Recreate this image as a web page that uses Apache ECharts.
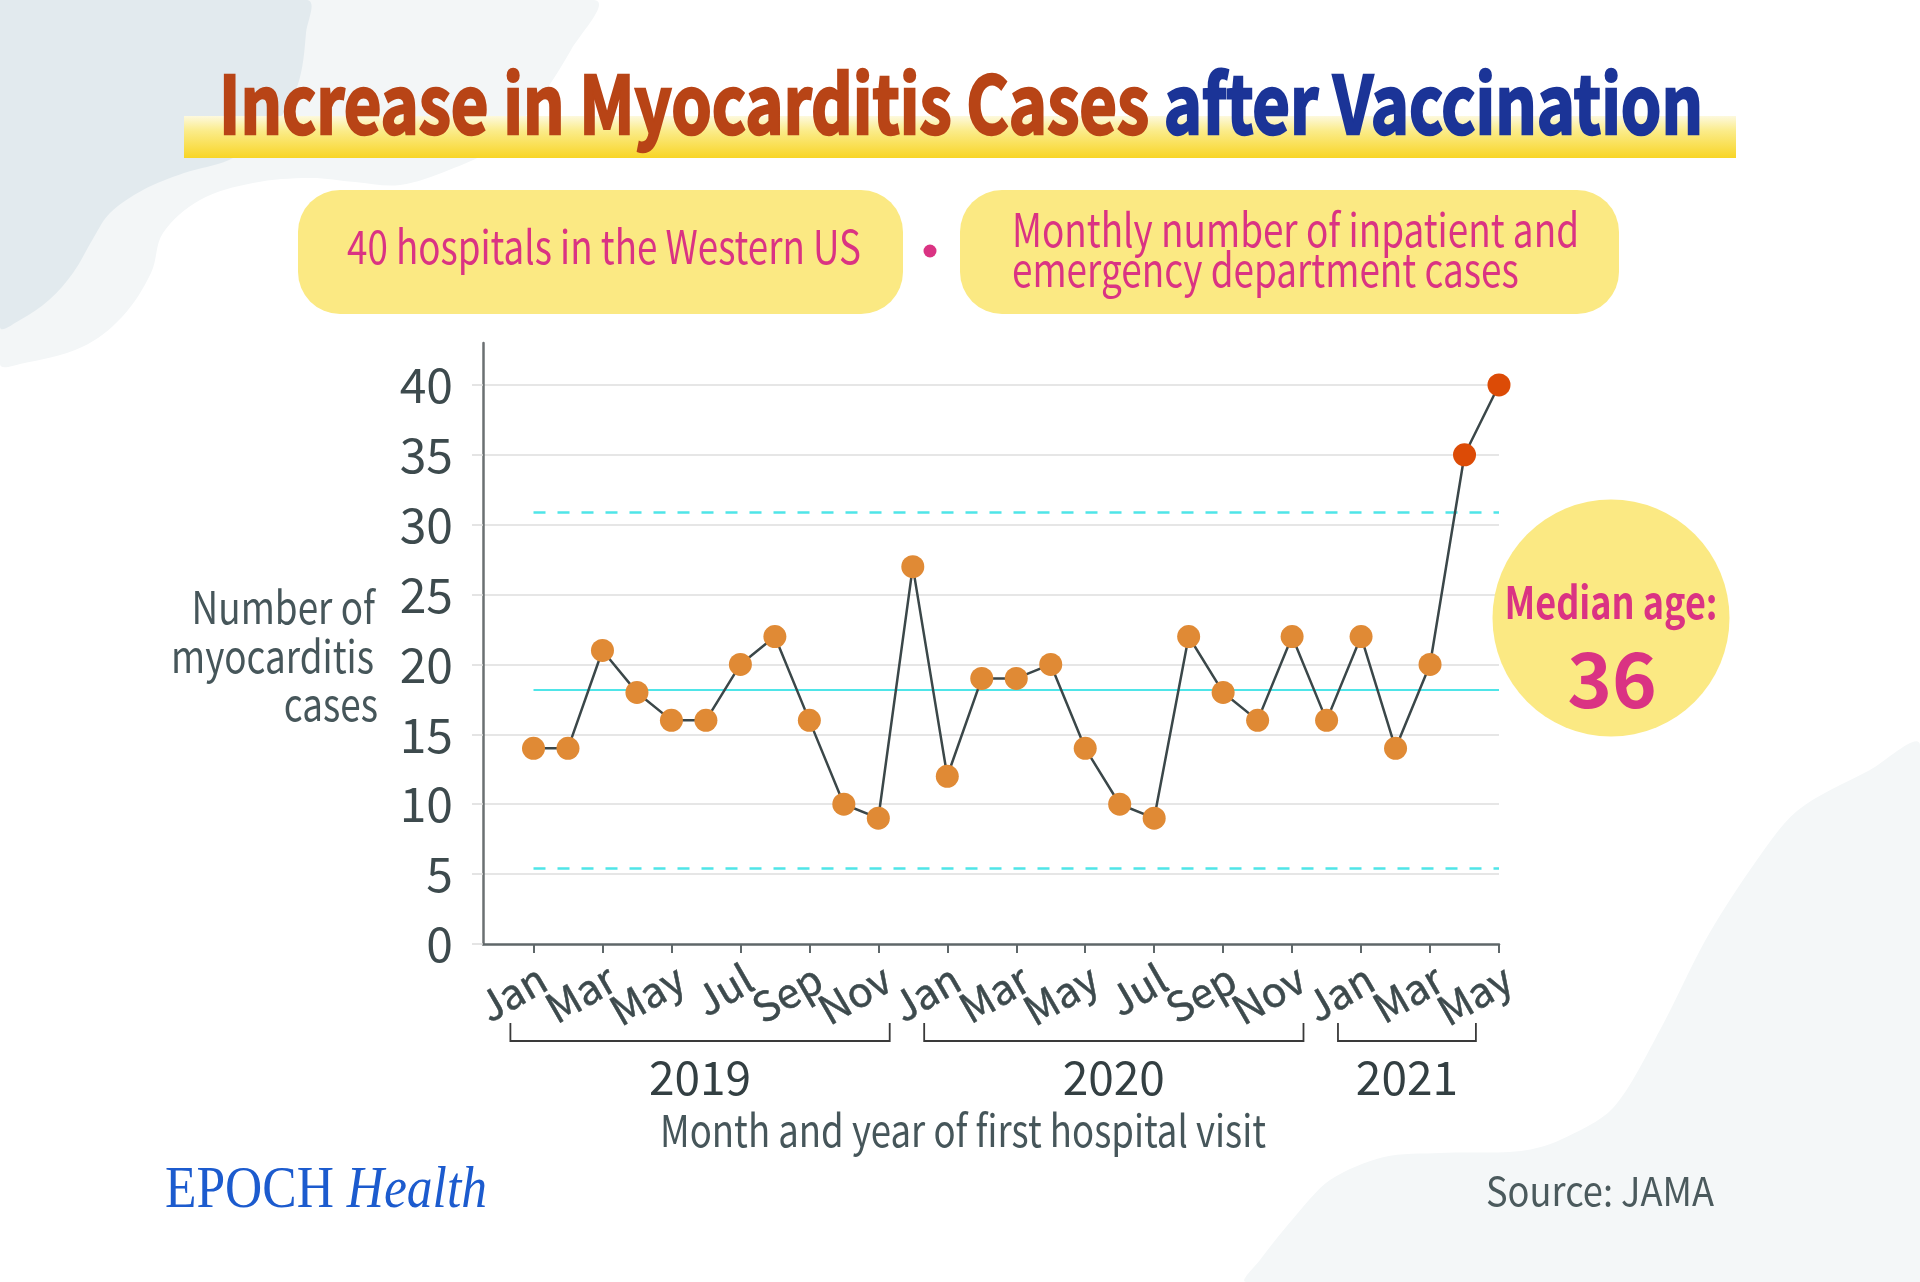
<!DOCTYPE html>
<html><head><meta charset="utf-8">
<script src="https://cdn.jsdelivr.net/npm/echarts@6/dist/echarts.min.js"></script>
<style>html,body{margin:0;padding:0;background:#fff}#c{width:1920px;height:1282px}</style>
</head><body><div id="c"></div>
<script>
// ---------- DATA ----------
const months = ['Jan 2019','Feb 2019','Mar 2019','Apr 2019','May 2019','Jun 2019','Jul 2019','Aug 2019','Sep 2019','Oct 2019','Nov 2019','Dec 2019',
  'Jan 2020','Feb 2020','Mar 2020','Apr 2020','May 2020','Jun 2020','Jul 2020','Aug 2020','Sep 2020','Oct 2020','Nov 2020','Dec 2020',
  'Jan 2021','Feb 2021','Mar 2021','Apr 2021','May 2021'];
const cases = [14,14,21,18,16,16,20,22,16,10,9,27, 12,19,19,20,14,10,9,22,18,16,22,16, 22,14,20,35,40];
const years = ['2019','2020','2021'];
const yearFirstMonth = ['Jan 2019','Jan 2020','Jan 2021'];
const yearLastMonth = ['Dec 2019','Dec 2020','May 2021'];
const surgeMonths = ['Apr 2021','May 2021'];
const centerLine = 18.2;
const upperLimit = 30.9;
const lowerLimit = 5.45;
const yMin = 0, yMax = 43, yStep = 5;
const titleMain = 'Increase in Myocarditis Cases ';
const titleAccent = 'after Vaccination';
const noteLeft = '40 hospitals in the Western US';
const noteRight = ['Monthly number of inpatient and', 'emergency department cases'];
const yTitle = ['Number of', 'myocarditis', 'cases'];
const xTitle = 'Month and year of first hospital visit';
const medianLabel = 'Median age:';
const medianAge = '36';
const source = 'Source: JAMA';

// ---------- HELPERS ----------
const FONT = '"Noto Sans CJK SC", "Source Sans Pro", "Noto Sans", sans-serif';
const SERIF = '"Liberation Serif", "DejaVu Serif", serif';
const mctx = document.createElement('canvas').getContext('2d');
function measure(text, size, weight, family, style) {
  mctx.font = (style || 'normal') + ' ' + (weight || 'normal') + ' ' + size + 'px ' + (family || FONT);
  return mctx.measureText(text).width;
}
function txt(text, x, y, o) {
  const st = {
    text: text, x: 0, y: 0, fill: o.fill, fontSize: o.size, fontWeight: o.weight || 'normal',
    fontFamily: o.family || FONT, fontStyle: o.style || 'normal',
    align: o.align || 'left', verticalAlign: o.vAlign || 'middle'
  };
  if (o.stroke) { st.stroke = o.stroke; st.lineWidth = o.strokeWidth || 1; }
  return {type: 'text', x: x, y: y, scaleX: o.scaleX || 1, rotation: o.rotation || 0, z: 50, style: st};
}

const chart = echarts.init(document.getElementById('c'), null, {renderer: 'canvas'});
const axisText = '#3d4a4d';

const option = {
  animation: false,
  backgroundColor: '#ffffff',
  grid: [
    {left: 483, right: 421, top: 343, bottom: 338},
    {left: 533.5, right: 421, top: 343, bottom: 338}
  ],
  xAxis: [
    {gridIndex: 0, type: 'value', min: 0, max: 1,
      axisLine: {show: true, lineStyle: {color: '#5f6769', width: 2.5}},
      axisTick: {show: false}, axisLabel: {show: false}, splitLine: {show: false}},
    {gridIndex: 1, type: 'category', data: months, boundaryGap: false,
      axisLine: {show: false},
      axisTick: {show: true, interval: 1, length: 9, lineStyle: {color: '#5f6769', width: 2}},
      axisLabel: {show: false},
      splitLine: {show: false}}
  ],
  yAxis: [
    {gridIndex: 0, type: 'value', min: yMin, max: yMax, interval: yStep,
      axisLine: {show: true, lineStyle: {color: '#6b7072', width: 2.5}},
      axisTick: {show: true, length: 11, lineStyle: {color: '#dcdcdc', width: 1.5}},
      axisLabel: {fontSize: 48, color: axisText, fontFamily: FONT, margin: 30, showMaxLabel: false},
      splitLine: {show: true, showMaxLine: false, showMinLine: false, lineStyle: {color: '#dedede', width: 1.5}}},
    {gridIndex: 1, type: 'value', min: yMin, max: yMax, interval: yStep, show: false,
      splitLine: {show: false}}
  ],
  series: [{
    type: 'line', xAxisIndex: 1, yAxisIndex: 1,
    data: cases.map((v, i) => surgeMonths.indexOf(months[i]) >= 0
      ? {value: v, itemStyle: {color: '#DC4B06'}} : v),
    symbol: 'circle', symbolSize: 23, z: 5, showSymbol: true, showAllSymbol: true,
    lineStyle: {color: '#3b4749', width: 2.5},
    itemStyle: {color: '#E08A35'},
    markLine: {
      symbol: 'none', silent: true, label: {show: false}, z: 3,
      lineStyle: {color: '#4FE5E8', width: 2.5},
      data: [
        {yAxis: centerLine, lineStyle: {type: 'solid', width: 2}},
        {yAxis: upperLimit, lineStyle: {type: [12, 12]}},
        {yAxis: lowerLimit, lineStyle: {type: [12, 12]}}
      ]
    }
  }]
};
chart.setOption(option);

// ---------- DECORATION / TEXT ----------
const g = [];
g.push({type: 'polygon', z: -20, shape: {smooth: 0.35, points: [[0,0],[594,0],[571,50],[531,110],[490,150],[449,170],[400,185],[355,182],[310,178],[253,183],[200,200],[163,233],[151,273],[122,317],[82,347],[20,364],[0,364]]}, style: {fill: '#F3F6F7'}});
g.push({type: 'polygon', z: -19, shape: {smooth: 0.35, points: [[0,0],[307,0],[306,33],[300,77],[286,110],[257,140],[229,160],[184,173],[143,190],[110,213],[94,237],[73,273],[49,300],[20,320],[0,327]]}, style: {fill: '#E2EAEE'}});
g.push({type: 'polygon', z: -20, shape: {smooth: 0.3, points: [[1920,745],[1870,770],[1797,811],[1750,870],[1705,941],[1660,1030],[1613,1108],[1560,1140],[1521,1151],[1440,1153],[1384,1157],[1330,1180],[1292,1220],[1260,1260],[1246,1282],[1920,1282]]}, style: {fill: '#F4F7F8'}});

// title band
g.push({type: 'rect', z: 10, shape: {x: 184, y: 116, width: 1552, height: 42},
  style: {fill: new echarts.graphic.LinearGradient(0, 0, 0, 1, [
    {offset: 0, color: '#FDF9DE'}, {offset: 0.35, color: '#FBEC8A'}, {offset: 1, color: '#F8D526'}])}});
// title text
const tSize = 80;
const wA = measure(titleMain, tSize, 'bold'), wB = measure(titleAccent, tSize, 'bold');
const tScale = 1484 / (wA + wB);
g.push(txt(titleMain, 219, 104, {size: tSize, weight: 'bold', fill: '#B84416', stroke: '#B84416', strokeWidth: 2.5, scaleX: tScale}));
g.push(txt(titleAccent, 219 + wA * tScale, 104, {size: tSize, weight: 'bold', fill: '#1B3497', stroke: '#1B3497', strokeWidth: 2.5, scaleX: tScale}));

// note boxes
g.push({type: 'rect', z: 10, shape: {x: 298, y: 190, width: 605, height: 124, r: 42}, style: {fill: '#FBE983'}});
g.push({type: 'rect', z: 10, shape: {x: 960, y: 190, width: 659, height: 124, r: 42}, style: {fill: '#FBE983'}});
g.push({type: 'circle', z: 10, shape: {cx: 930, cy: 251, r: 6.5}, style: {fill: '#DA3383'}});
const nSize = 46;
g.push(txt(noteLeft, 347, 247, {size: nSize, fill: '#DA3383', scaleX: 514 / measure(noteLeft, nSize)}));
const rScale = 567 / measure(noteRight[0], nSize);
g.push(txt(noteRight[0], 1012, 230, {size: nSize, fill: '#DA3383', scaleX: rScale}));
g.push(txt(noteRight[1], 1012, 270, {size: nSize, fill: '#DA3383', scaleX: rScale}));

// y axis title
const ySz = 45;
const yScale = 203 / measure(yTitle[1], ySz);
g.push(txt(yTitle[0], 375, 607, {size: ySz, fill: '#46565a', align: 'right', scaleX: yScale}));
g.push(txt(yTitle[1], 374, 656, {size: ySz, fill: '#46565a', align: 'right', scaleX: yScale}));
g.push(txt(yTitle[2], 378, 704, {size: ySz, fill: '#46565a', align: 'right', scaleX: yScale}));

// median age circle
g.push({type: 'circle', z: 10, shape: {cx: 1611, cy: 618, r: 118.5}, style: {fill: '#FBE983'}});
g.push(txt(medianLabel, 1611, 602, {size: 44, weight: 'bold', fill: '#DA3383', align: 'center',
  scaleX: 213 / measure(medianLabel, 44, 'bold')}));
g.push(txt(medianAge, 1612, 679, {size: 76, weight: 'bold', fill: '#DA3383', align: 'center'}));

// month labels placed from the category axis scale (every other month)
const px = i => chart.convertToPixel({xAxisIndex: 1}, i);
const axisY = chart.convertToPixel({yAxisIndex: 1}, yMin);
months.forEach((m, i) => {
  if (i % 2 !== 0) return;
  g.push(txt(m.split(' ')[0], px(i) + 9, axisY + 31, {size: 41, fill: axisText, align: 'right',
    rotation: Math.PI / 6, stroke: axisText, strokeWidth: 0.5}));
});

// year brackets
const step = px(1) - px(0);
const shift = -0.67 * step;
years.forEach((y, k) => {
  const x0 = px(months.indexOf(yearFirstMonth[k])) + shift;
  const x1 = px(months.indexOf(yearLastMonth[k])) + shift;
  g.push({type: 'polyline', z: 10, shape: {points: [[x0, axisY + 79], [x0, axisY + 97], [x1, axisY + 97], [x1, axisY + 79]]},
    style: {stroke: '#3a3a3a', lineWidth: 1.8, fill: null}});
  g.push(txt(y, (x0 + x1) / 2, axisY + 134, {size: 46, fill: '#333f42', align: 'center'}));
});

// x axis title
const xSz = 44;
g.push(txt(xTitle, 660, 1130, {size: xSz, fill: '#46565a', scaleX: 606 / measure(xTitle, xSz)}));

// footer
const eSize = 60;
const wE = measure('EPOCH ', eSize, 'normal', SERIF);
const wH = measure('Health', eSize, 'normal', SERIF, 'italic');
const eScale = 322 / (wE + wH);
g.push(txt('EPOCH', 165, 1191, {size: eSize, family: SERIF, fill: '#1C5BCE', scaleX: eScale}));
g.push(txt('Health', 165 + wE * eScale, 1191, {size: eSize, family: SERIF, style: 'italic', fill: '#1C5BCE', scaleX: eScale}));
g.push(txt(source, 1486, 1191, {size: 40, fill: '#4b5a5d', scaleX: 228 / measure(source, 40)}));

chart.setOption({graphic: {elements: g}});
</script>
</body></html>
